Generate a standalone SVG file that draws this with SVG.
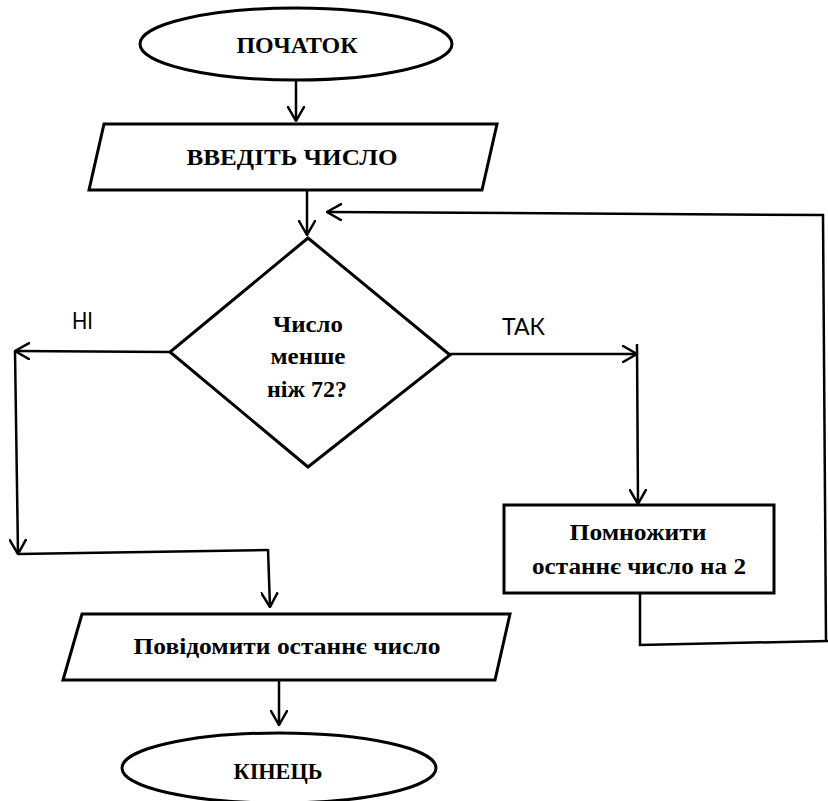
<svg xmlns="http://www.w3.org/2000/svg" width="828" height="801" viewBox="0 0 828 801">
<defs>
<marker id="arr" viewBox="0 0 16 18" refX="15" refY="9" markerWidth="16" markerHeight="18" markerUnits="userSpaceOnUse" orient="auto">
<path d="M1,1 L15,9 L1,17" fill="none" stroke="#000" stroke-width="2.5" stroke-linecap="round" stroke-linejoin="round"/>
</marker>
<style>
.shape{fill:#fff;stroke:#000;stroke-width:3}
.con{fill:none;stroke:#000;stroke-width:2.5}
.t{font-family:"Liberation Serif","Times New Roman",serif;font-weight:bold;font-size:24px;fill:#000;text-anchor:middle}
.lbl{font-family:Lato,"Open Sans",sans-serif;font-size:23px;fill:#000}
</style>
</defs>
<rect width="828" height="801" fill="#fff"/>
<g id="connectors">
<path class="con" d="M296,80 L296,121" marker-end="url(#arr)"/>
<path class="con" d="M307,190 L307,235" marker-end="url(#arr)"/>
<path class="con" d="M170,352 L15,351" marker-end="url(#arr)"/>
<path class="con" d="M15,351 L18,554" marker-end="url(#arr)"/>
<path class="con" d="M18,554 L268,550"/>
<path class="con" d="M268,549 L270,607" marker-end="url(#arr)"/>
<path class="con" d="M450,354 L637,354" marker-end="url(#arr)"/>
<path class="con" d="M637,344 L638,504" marker-end="url(#arr)"/>
<path class="con" d="M640,593 L640,645 L828,641"/>
<path class="con" d="M826,641 L823,215 L327,212" marker-end="url(#arr)"/>
<path class="con" d="M279,680 L279,725" marker-end="url(#arr)"/>
</g>
<g id="start">
<ellipse class="shape" cx="296" cy="44" rx="156" ry="36"/>
<text class="t" x="297" y="53" textLength="121" lengthAdjust="spacingAndGlyphs">ПОЧАТОК</text>
</g>
<g id="input">
<polygon class="shape" points="104,124 497,124 482,190 89,190"/>
<text class="t" x="292" y="165" textLength="211" lengthAdjust="spacingAndGlyphs">ВВЕДІТЬ ЧИСЛО</text>
</g>
<g id="decision">
<polygon class="shape" points="308,238 450,355 308,467 170,352"/>
<text class="t" x="308" y="332" textLength="70" lengthAdjust="spacingAndGlyphs">Число</text>
<text class="t" x="308" y="364" textLength="75" lengthAdjust="spacingAndGlyphs">менше</text>
<text class="t" x="307" y="397" textLength="80" lengthAdjust="spacingAndGlyphs">ніж 72?</text>
</g>
<g id="label-no">
<text class="lbl" x="72" y="329" textLength="21" lengthAdjust="spacingAndGlyphs">НІ</text>
</g>
<g id="label-yes">
<text class="lbl" x="502" y="335" textLength="43" lengthAdjust="spacingAndGlyphs">ТАК</text>
</g>
<g id="multiply">
<rect class="shape" x="504" y="505" width="270" height="88"/>
<text class="t" x="638" y="540" textLength="137" lengthAdjust="spacingAndGlyphs">Помножити</text>
<text class="t" x="639" y="574" textLength="214" lengthAdjust="spacingAndGlyphs">останнє число на 2</text>
</g>
<g id="output">
<polygon class="shape" points="82,614 510,614 495,680 63,680"/>
<text class="t" x="287" y="654" textLength="307" lengthAdjust="spacingAndGlyphs">Повідомити останнє число</text>
</g>
<g id="end">
<ellipse class="shape" cx="279" cy="768" rx="157" ry="35"/>
<text class="t" x="278" y="779" textLength="89" lengthAdjust="spacingAndGlyphs">КІНЕЦЬ</text>
</g>
</svg>
